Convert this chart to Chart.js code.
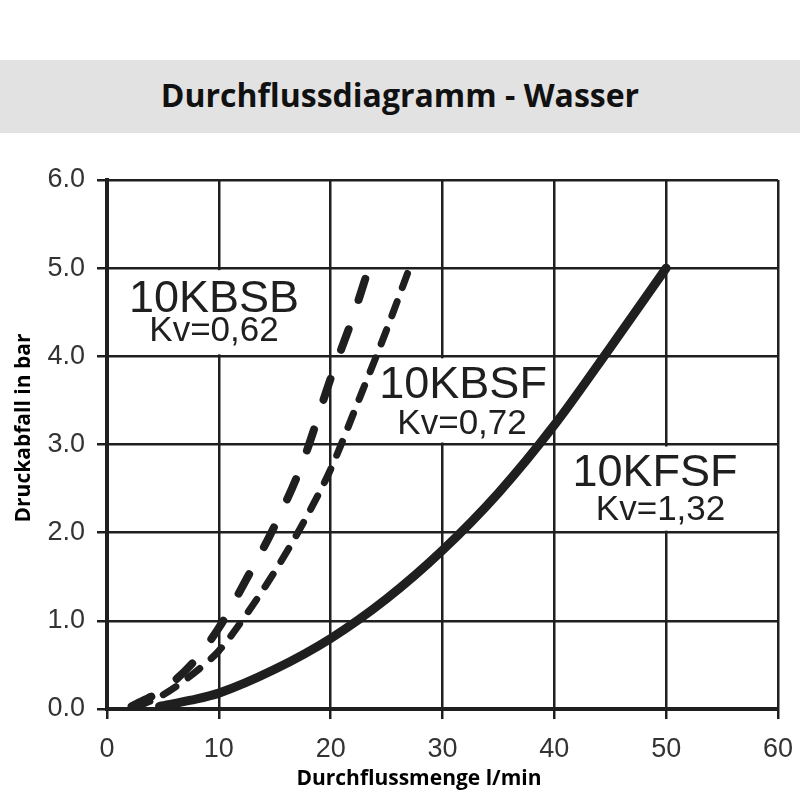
<!DOCTYPE html>
<html>
<head>
<meta charset="utf-8">
<script src="https://cdn.jsdelivr.net/npm/chart.js@4"></script>
<style>
  body { margin: 0; background: #fff; }
  #wrap { position: relative; width: 800px; height: 800px; }
  #title {
    position: absolute; left: 0; top: 60px; width: 800px; height: 73px;
    background: #e2e2e2; color: #111;
    font: bold 32px "Open Sans", sans-serif;
    text-align: center; line-height: 70px; z-index: 2;
  }
  canvas { position: absolute; left: 0; top: 0; }
</style>
</head>
<body>
<div id="wrap">
  <div id="title">Durchflussdiagramm - Wasser</div>
  <canvas id="flowChart" width="800" height="800"></canvas>
</div>
<script>
// Flow rate (l/min) and pressure drop (bar)
const kbsbFlow = [2.2, 5, 7.5, 10, 12.5, 15, 17.5, 20, 22, 23.4];
const kbsbDrop = [0.03, 0.22, 0.5, 0.92, 1.48, 2.08, 2.8, 3.75, 4.45, 5.0];

const kbsfFlow = [2.6, 5, 7.5, 10, 12.5, 15, 17.5, 20, 22.5, 25, 26.9];
const kbsfDrop = [0.02, 0.16, 0.38, 0.66, 1.08, 1.56, 2.1, 2.72, 3.5, 4.3, 4.95];

const kfsfFlow = [4.7, 7.5, 10, 15, 20, 25, 30, 35, 40, 45, 50];
const kfsfDrop = [0.03, 0.1, 0.18, 0.45, 0.8, 1.25, 1.8, 2.45, 3.22, 4.1, 5.0];

const xTicks = [0, 10, 20, 30, 40, 50, 60];
const yTicks = [0, 1, 2, 3, 4, 5, 6];

// curve labels: name and Kv text
const curveNames = ["10KBSB", "10KBSF", "10KFSF"];
const kvTexts = ["Kv=0,62", "Kv=0,72", "Kv=1,32"];

function toPoints(xs, ys) {
    return xs.map((x, i) => ({ x: x, y: ys[i] }));
}

const ink = "#1f1f1f";

// white boxes + text for the curve names (drawn under the curves)
const labelPlugin = {
    id: "curveLabels",
    beforeDatasetsDraw(chart) {
        const ctx = chart.ctx;
        const xs = chart.scales.x, ys = chart.scales.y;
        const spots = [
            { name: [9.57, 4.64], kv: [9.57, 4.28], box: [1.6, 17.6, 4.0, 5.0] },
            { name: [31.84, 3.67], kv: [31.75, 3.23], box: [24.8, 39.0, 3.0, 4.0] },
            { name: [49.0, 2.67], kv: [49.5, 2.25], box: [42.0, 57.0, 2.0, 3.0] }
        ];
        ctx.save();
        spots.forEach((s, i) => {
            const bx0 = xs.getPixelForValue(s.box[0]);
            const bx1 = xs.getPixelForValue(s.box[1]);
            const by0 = ys.getPixelForValue(s.box[3]) + 2;
            const by1 = ys.getPixelForValue(s.box[2]) - 2;
            ctx.fillStyle = "#fff";
            ctx.fillRect(bx0, by0, bx1 - bx0, by1 - by0);

            ctx.fillStyle = ink;
            ctx.textAlign = "center";
            ctx.textBaseline = "middle";
            ctx.font = "45px 'Liberation Sans', Arial, sans-serif";
            ctx.fillText(curveNames[i], xs.getPixelForValue(s.name[0]), ys.getPixelForValue(s.name[1]));
            ctx.font = "35px 'Liberation Sans', Arial, sans-serif";
            ctx.fillText(kvTexts[i], xs.getPixelForValue(s.kv[0]), ys.getPixelForValue(s.kv[1]));
        });
        ctx.restore();
    },
    afterDraw(chart) {
        // axis titles
        const ctx = chart.ctx;
        const area = chart.chartArea;
        ctx.save();
        ctx.fillStyle = "#000";
        ctx.font = "bold 21px 'Open Sans', sans-serif";
        ctx.textAlign = "center";
        ctx.textBaseline = "middle";
        ctx.fillText("Durchflussmenge l/min", area.left + 312, 779);
        ctx.translate(24, area.top + 248);
        ctx.rotate(-Math.PI / 2);
        ctx.fillText("Druckabfall in bar", 0, 0);
        ctx.restore();
    }
};

const ctx = document.getElementById("flowChart").getContext("2d");

new Chart(ctx, {
    type: "line",
    data: {
        datasets: [
            {
                label: "10KBSB",
                data: toPoints(kbsbFlow, kbsbDrop),
                borderColor: ink,
                borderWidth: 8,
                borderDash: [22, 31],
                borderCapStyle: "round",
                cubicInterpolationMode: "monotone",
                pointRadius: 0
            },
            {
                label: "10KBSF",
                data: toPoints(kbsfFlow, kbsfDrop),
                borderColor: ink,
                borderWidth: 7,
                borderDash: [15, 15],
                borderCapStyle: "round",
                cubicInterpolationMode: "monotone",
                pointRadius: 0
            },
            {
                label: "10KFSF",
                data: toPoints(kfsfFlow, kfsfDrop),
                borderColor: ink,
                borderWidth: 9,
                borderCapStyle: "round",
                cubicInterpolationMode: "monotone",
                pointRadius: 0
            }
        ]
    },
    options: {
        responsive: false,
        animation: false,
        events: [],
        layout: { padding: { top: 180, left: 0, right: 22, bottom: 0 } },
        plugins: {
            legend: { display: false },
            tooltip: { enabled: false }
        },
        scales: {
            x: {
                type: "linear",
                min: 0,
                max: 60,
                afterBuildTicks: (scale) => { scale.ticks = xTicks.map(v => ({ value: v })); },
                afterFit: (scale) => {
                    scale.height = 91;
                    scale.paddingLeft = 0;
                    scale.paddingRight = 0;
                },
                ticks: {
                    color: "#333",
                    padding: 14,
                    font: { family: "'Liberation Sans Narrow', 'Liberation Sans', Arial", size: 27 }
                },
                grid: { color: ink, lineWidth: 2.5, tickLength: 10, tickColor: ink },
                border: { display: true, color: ink, width: 4 }
            },
            y: {
                type: "linear",
                min: 0,
                max: 6,
                afterBuildTicks: (scale) => { scale.ticks = yTicks.map(v => ({ value: v })); },
                afterFit: (scale) => {
                    scale.width = 107;
                    scale.paddingTop = 0;
                    scale.paddingBottom = 0;
                },
                ticks: {
                    color: "#333",
                    padding: 12,
                    font: { family: "'Liberation Sans', Arial", size: 27 },
                    callback: (v) => Number(v).toFixed(1)
                },
                grid: { color: ink, lineWidth: 2.5, tickLength: 10, tickColor: ink },
                border: { display: true, color: ink, width: 4 }
            }
        }
    },
    plugins: [labelPlugin]
});
</script>
</body>
</html>
